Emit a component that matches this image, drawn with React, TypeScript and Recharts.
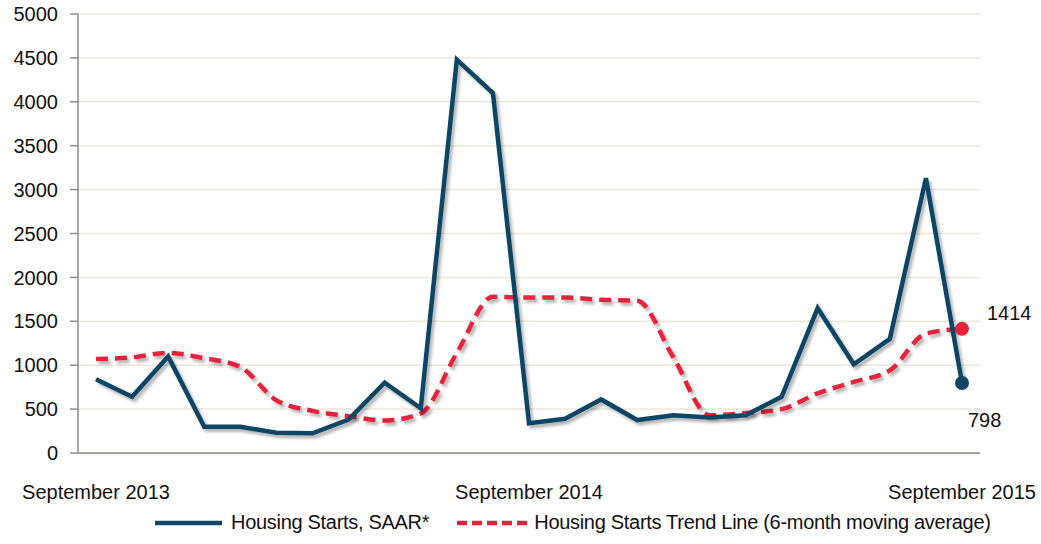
import React from 'react';
import { CartesianGrid, Legend, LabelList, Line, LineChart, XAxis, YAxis } from 'recharts';

const months = [
  'September 2013', 'October 2013', 'November 2013', 'December 2013',
  'January 2014', 'February 2014', 'March 2014', 'April 2014', 'May 2014',
  'June 2014', 'July 2014', 'August 2014', 'September 2014', 'October 2014',
  'November 2014', 'December 2014', 'January 2015', 'February 2015',
  'March 2015', 'April 2015', 'May 2015', 'June 2015', 'July 2015',
  'August 2015', 'September 2015',
];

const starts = [
  840, 640, 1100, 300, 300, 230, 225, 380, 800, 510, 4480, 4100, 340,
  390, 610, 375, 430, 405, 430, 640, 1650, 1010, 1300, 3130, 798,
];

const trend = [
  1070, 1090, 1140, 1080, 980, 600, 480, 420, 370, 450, 1140, 1780, 1770,
  1770, 1745, 1735, 1090, 430, 455, 500, 680, 810, 940, 1360, 1414,
];

const yTicks = [0, 500, 1000, 1500, 2000, 2500, 3000, 3500, 4000, 4500, 5000];

const BLUE = '#0f4565';
const RED = '#e8213a';
const FONT = '"Liberation Sans", Arial, sans-serif';

const data = months.map((m, i) => ({ month: m, starts: starts[i], trend: trend[i] }));
const last = months.length - 1;

const endDot = (color: string) => (props: any) => {
  const { cx, cy, index } = props;
  if (index !== last) return <g key={`d-${index}`} />;
  return <circle key={`d-${index}`} cx={cx} cy={cy} r={7} fill={color} stroke="none" />;
};

const XTick = ({ x, y, payload }: any) => (
  <text x={x} y={y + 44} textAnchor="middle" fontSize={20} fill="#111" fontFamily={FONT}>
    {payload.value}
  </text>
);

const LegendBox = () => (
  <div
    style={{
      width: 1041,
      height: 51,
      display: 'flex',
      alignItems: 'center',
      paddingTop: 8,
      paddingLeft: 155,
      boxSizing: 'border-box',
      whiteSpace: 'nowrap',
      fontFamily: FONT,
      fontSize: 20,
      color: '#111',
    }}
  >
    <svg width={67} height={8} style={{ marginRight: 9, flexShrink: 0 }}>
      <line x1={0} y1={4} x2={67} y2={4} stroke={BLUE} strokeWidth={4.5} />
    </svg>
    <span style={{ marginRight: 28, letterSpacing: -0.3 }}>Housing Starts, SAAR*</span>
    <svg width={70} height={8} style={{ marginRight: 7, flexShrink: 0 }}>
      <line x1={0} y1={4} x2={70} y2={4} stroke={RED} strokeWidth={4.5} strokeDasharray="10 5" />
    </svg>
    <span style={{ letterSpacing: -0.3 }}>Housing Starts Trend Line (6-month moving average)</span>
  </div>
);

export default function App() {
  return (
    <div style={{ position: 'absolute', left: 0, top: 0, background: '#fff' }}>
      <svg width={0} height={0} style={{ position: 'absolute' }}>
        <defs>
          <filter id="shadow" x="-10%" y="-10%" width="120%" height="130%">
            <feDropShadow dx={2.5} dy={3} stdDeviation={1.8} floodColor="#000" floodOpacity={0.3} />
          </filter>
        </defs>
      </svg>
      <LineChart width={1041} height={544} data={data} margin={{ top: 14, right: 61, left: 0, bottom: 0 }}>
        <CartesianGrid vertical={false} stroke="#ebe7da" strokeWidth={1.5} />
        <XAxis
          dataKey="month"
          height={40}
          interval={11}
          tickLine={false}
          tickSize={0}
          axisLine={{ stroke: '#8c8c8c', strokeWidth: 1.5 }}
          padding={{ left: 18, right: 18 }}
          tick={<XTick />}
        />
        <YAxis
          width={78}
          domain={[0, 5000]}
          ticks={yTicks}
          interval={0}
          tickSize={8}
          tickMargin={12}
          axisLine={{ stroke: '#8c8c8c', strokeWidth: 1.5 }}
          tickLine={{ stroke: '#8c8c8c', strokeWidth: 1.5 }}
          tick={{ fontSize: 20, fill: '#111', fontFamily: FONT }}
        />
        <Legend
          verticalAlign="bottom"
          wrapperStyle={{ left: 0, width: 1041 }}
          content={<LegendBox />}
        />
        <Line
          type="monotone"
          dataKey="trend"
          stroke={RED}
          strokeWidth={4.5}
          strokeDasharray="12 7"
          filter="url(#shadow)"
          dot={endDot(RED)}
          activeDot={false}
          isAnimationActive={false}
        >
          <LabelList
            dataKey="trend"
            content={(p: any) =>
              p.index === last ? (
                <text x={p.x + 25} y={p.y - 9} fontSize={20} fill="#111" fontFamily={FONT}>
                  {p.value}
                </text>
              ) : null
            }
          />
        </Line>
        <Line
          type="linear"
          dataKey="starts"
          stroke={BLUE}
          strokeWidth={4.5}
          filter="url(#shadow)"
          dot={endDot(BLUE)}
          activeDot={false}
          isAnimationActive={false}
        >
          <LabelList
            dataKey="starts"
            content={(p: any) =>
              p.index === last ? (
                <text x={p.x + 6} y={p.y + 44} fontSize={20} fill="#111" fontFamily={FONT}>
                  {p.value}
                </text>
              ) : null
            }
          />
        </Line>
      </LineChart>
    </div>
  );
}
